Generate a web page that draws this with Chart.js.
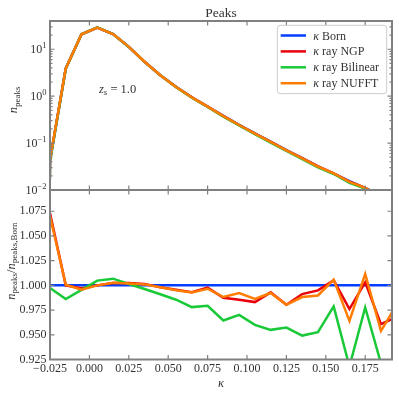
<!DOCTYPE html>
<html><head><meta charset="utf-8">
<script src="https://cdn.jsdelivr.net/npm/chart.js@4.4.1/dist/chart.umd.min.js"></script>
<style>
html,body{margin:0;padding:0;background:#fff;width:399px;height:394px;overflow:hidden;}
#c1{position:absolute;left:0;top:0;}
#c2{position:absolute;left:0;top:189px;}
</style></head><body>
<canvas id="c1" width="399" height="200"></canvas>
<canvas id="c2" width="399" height="205"></canvas>
<script>
// ---- data ----
const kappa = [-0.035, -0.025, -0.015, -0.005, 0.005, 0.015, 0.025, 0.035, 0.045, 0.055, 0.065, 0.075,
               0.085, 0.095, 0.105, 0.115, 0.125, 0.135, 0.145, 0.155, 0.165, 0.175, 0.185, 0.195];
const nBorn = [0, 0.041, 3.9, 20.9, 29.0, 21.0, 11.2, 5.4, 2.8, 1.58, 0.95, 0.60,
               0.38, 0.245, 0.162, 0.107, 0.071, 0.048, 0.032, 0.0224, 0.0155, 0.011, 0.0076, 0.0052];
const ratioNGP = [null, 1.073, 1.000, 0.997, 1.000, 1.0025, 1.0025, 1.0015, 0.998, 0.9955, 0.993, 0.9977,
                  0.9875, 0.9855, 0.9831, 0.9929, 0.9804, 0.9912, 0.9949, 1.0051, 0.976, 1.003, 0.9608, 0.9681];
const ratioBilinear = [null, 0.9973, 0.9862, 0.9955, 1.0048, 1.0068, 1.0014, 0.9963, 0.991, 0.9855, 0.978, 0.9794,
                       0.9645, 0.9702, 0.960, 0.955, 0.9573, 0.9492, 0.9526, 0.9787, 0.918, 0.9776, 0.921, 0.915];
const ratioNUFFT = [null, 1.070, 1.0007, 0.9956, 1.000, 1.0027, 1.002, 1.001, 0.998, 0.995, 0.9929, 0.9966,
                    0.9882, 0.9923, 0.9862, 0.9923, 0.9804, 0.9882, 0.9898, 1.0058, 0.9641, 1.0116, 0.954, 0.9805];
const seriesNames = ['κ Born', 'κ ray NGP', 'κ ray Bilinear', 'κ ray NUFFT'];
const xTicks = [-0.025, 0.000, 0.025, 0.050, 0.075, 0.100, 0.125, 0.150, 0.175];
const ratioTicks = [0.925, 0.950, 0.975, 1.000, 1.025, 1.050, 1.075];
const logMajorTicks = [0.01, 0.1, 1, 10];
const logExponents = ['−2', '−1', '0', '1'];
const titleText = 'Peaks';
const annotationText = ['z', 's', ' = 1.0'];

// ---- styles ----
const seriesColors = ['#023eff', '#e8000b', '#1ac938', '#ff7c00'];
const SERIF = '"Liberation Serif", "DejaVu Serif", serif';
const FRAME = '#808080';
const TXT = '#333333';

// ratios per series (Born / Born = 1 where defined)
const ratioBorn = nBorn.map(v => v > 0 ? 1 : null);
const ratios = [ratioBorn, ratioNGP, ratioBilinear, ratioNUFFT];
// counts per series = Born counts times the plotted ratio; empty bins clipped like a log axis does
const counts = ratios.map(r => nBorn.map((v, j) => { const c = v * (r[j] == null ? 1 : r[j]); return c > 0 ? c : 1e-30; }));

const X_MIN = -0.025, X_MAX = 0.192;
const Y_LOG_MIN = 0.01, Y_LOG_MAX = 40;
const Y_R_MIN = 0.925, Y_R_MAX = 1.0965;

const logMinorTicks = [];
logMajorTicks.forEach(m => { for (let k = 2; k <= 9; k++) { const v = m * k; if (v <= Y_LOG_MAX + 1e-9) logMinorTicks.push(v); } });

function fnt(p) { return (p.italic ? 'italic ' : '') + p.size + 'px ' + SERIF; }
function richWidth(ctx, parts) { let w = 0; for (const p of parts) { ctx.font = fnt(p); w += ctx.measureText(p.t).width; } return w; }
function drawRich(ctx, parts, x, y, align) {
  const w = richWidth(ctx, parts);
  let cx = align === 'center' ? x - w / 2 : (align === 'right' ? x - w : x);
  ctx.textAlign = 'left'; ctx.textBaseline = 'alphabetic';
  for (const p of parts) { ctx.font = fnt(p); ctx.fillStyle = p.color || TXT; ctx.fillText(p.t, cx, y + (p.dy || 0)); cx += ctx.measureText(p.t).width; }
}

const decor = {
  id: 'decor',
  afterDatasetsDraw(chart, args, opts) {
    const { ctx, chartArea: a, scales } = chart;
    const xs = scales.x, ys = scales.y;
    ctx.save();
    ctx.strokeStyle = FRAME; ctx.lineWidth = 1.2;
    ctx.beginPath();
    for (const v of opts.xMajor) {
      const px = xs.getPixelForValue(v);
      ctx.moveTo(px, a.bottom); ctx.lineTo(px, a.bottom - 4.5);
      ctx.moveTo(px, a.top); ctx.lineTo(px, a.top + 4.5);
    }
    for (const v of opts.yMajor) {
      const py = ys.getPixelForValue(v);
      ctx.moveTo(a.left, py); ctx.lineTo(a.left + 4.5, py);
      ctx.moveTo(a.right, py); ctx.lineTo(a.right - 4.5, py);
    }
    for (const v of (opts.yMinor || [])) {
      const py = ys.getPixelForValue(v);
      ctx.moveTo(a.left, py); ctx.lineTo(a.left + 2.5, py);
      ctx.moveTo(a.right, py); ctx.lineTo(a.right - 2.5, py);
    }
    ctx.stroke();
    ctx.lineWidth = 2;
    ctx.strokeRect(a.left, a.top, a.right - a.left, a.bottom - a.top);
    ctx.restore();
  },
  afterDraw(chart, args, opts) {
    const { ctx, chartArea: a, scales } = chart;
    const h = a.bottom - a.top;
    ctx.save();
    if (opts.top) {
      // title
      ctx.fillStyle = TXT; ctx.font = '13.5px ' + SERIF; ctx.textAlign = 'center'; ctx.textBaseline = 'alphabetic';
      ctx.fillText(titleText, (a.left + a.right) / 2, a.top - 4.5);
      // log tick labels
      logMajorTicks.forEach((v, i) => {
        const py = scales.y.getPixelForValue(v);
        drawRich(ctx, [{ t: '10', size: 12 }, { t: logExponents[i], size: 8.5, dy: -5 }], a.left - 3.5, py + 4, 'right');
      });
      // annotation z_s = 1.0
      drawRich(ctx, [{ t: annotationText[0], size: 12.5, italic: true }, { t: annotationText[1], size: 9, italic: true, dy: 2.5 }, { t: annotationText[2], size: 12.5 }],
        a.left + 0.143 * (a.right - a.left), a.top + 0.40 * h + 4, 'left');
      // y title
      ctx.translate(17, a.top + 0.467 * h);
      ctx.rotate(-Math.PI / 2);
      drawRich(ctx, [{ t: 'n', size: 12.5, italic: true }, { t: 'peaks', size: 9, dy: 2.5 }], 0, 0, 'center');
      ctx.setTransform(1, 0, 0, 1, 0, 0);
      // legend
      const ds = chart.data.datasets;
      const bx = a.right - 114.7, by = a.top + 4.3, bw = 109.4, bh = 68.3;
      ctx.beginPath();
      if (ctx.roundRect) ctx.roundRect(bx, by, bw, bh, 3); else ctx.rect(bx, by, bw, bh);
      ctx.fillStyle = 'rgba(255,255,255,0.85)'; ctx.fill();
      ctx.strokeStyle = '#cccccc'; ctx.lineWidth = 1; ctx.stroke();
      seriesNames.forEach((name, i) => {
        const ry = by + 10.2 + i * 15.9;
        ctx.strokeStyle = ds[i].borderColor; ctx.lineWidth = 2.5;
        ctx.beginPath(); ctx.moveTo(bx + 3.4, ry); ctx.lineTo(bx + 28.7, ry); ctx.stroke();
        const sp = name.indexOf(' ');
        drawRich(ctx, [{ t: name.slice(0, sp), size: 12, italic: true }, { t: name.slice(sp), size: 12 }], bx + 36, ry + 4, 'left');
      });
    } else {
      // x title
      drawRich(ctx, [{ t: 'κ', size: 12.5, italic: true }], (a.left + a.right) / 2, a.bottom + 27, 'center');
      // y title
      ctx.translate(14.5, a.top + 0.42 * h);
      ctx.rotate(-Math.PI / 2);
      drawRich(ctx, [{ t: 'n', size: 12.5, italic: true }, { t: 'peaks', size: 9, dy: 2.5 },
                     { t: '/', size: 12.5 }, { t: 'n', size: 12.5, italic: true }, { t: 'peaks,Born', size: 9, dy: 2.5 }], 0, 0, 'center');
      ctx.setTransform(1, 0, 0, 1, 0, 0);
    }
    ctx.restore();
  }
};

function makeDatasets(values) {
  return seriesNames.map((name, i) => ({
    label: name,
    data: kappa.map((k, j) => ({ x: k, y: values[i][j] })),
    borderColor: seriesColors[i],
    backgroundColor: seriesColors[i],
    borderWidth: 2.5,
    pointRadius: 0,
    tension: 0,
    fill: false,
    spanGaps: false,
    order: seriesNames.length - 1 - i
  }));
}

function noPad(s) { s.paddingTop = 0; s.paddingBottom = 0; s.paddingLeft = 0; s.paddingRight = 0; }

const common = {
  responsive: false, animation: false, devicePixelRatio: 1, events: []
};

new Chart(document.getElementById('c1'), {
  type: 'line',
  data: { datasets: makeDatasets(counts) },
  options: Object.assign({}, common, {
    layout: { padding: { left: 0, right: 7, top: 21, bottom: 10 } },
    plugins: {
      legend: { display: false }, tooltip: { enabled: false }, title: { display: false },
      decor: { top: true, xMajor: xTicks, yMajor: logMajorTicks, yMinor: logMinorTicks }
    },
    scales: {
      x: { type: 'linear', min: X_MIN, max: X_MAX, display: false },
      y: { type: 'logarithmic', min: Y_LOG_MIN, max: Y_LOG_MAX,
           ticks: { display: false }, grid: { display: false, drawTicks: false }, border: { display: false },
           afterFit(s) { s.width = 50; noPad(s); } }
    }
  }),
  plugins: [decor]
});

new Chart(document.getElementById('c2'), {
  type: 'line',
  data: { datasets: makeDatasets(ratios) },
  options: Object.assign({}, common, {
    layout: { padding: { left: 0, right: 7, top: 1, bottom: 0 } },
    plugins: {
      legend: { display: false }, tooltip: { enabled: false }, title: { display: false },
      decor: { top: false, xMajor: xTicks, yMajor: ratioTicks }
    },
    scales: {
      x: { type: 'linear', min: X_MIN, max: X_MAX,
           afterBuildTicks(s) { s.ticks = xTicks.map(v => ({ value: v })); },
           ticks: { autoSkip: false, maxRotation: 0, padding: 2, color: TXT, font: { family: SERIF, size: 12 },
                    callback: v => Number(v).toFixed(3).replace('-', '−') },
           grid: { display: false, drawTicks: false }, border: { display: false },
           afterFit(s) { s.height = 34.5; noPad(s); } },
      y: { type: 'linear', min: Y_R_MIN, max: Y_R_MAX,
           afterBuildTicks(s) { s.ticks = ratioTicks.map(v => ({ value: v })); },
           ticks: { padding: 3.5, color: TXT, font: { family: SERIF, size: 12 },
                    callback: v => Number(v).toFixed(3) },
           grid: { display: false, drawTicks: false }, border: { display: false },
           afterFit(s) { s.width = 50; noPad(s); } }
    }
  }),
  plugins: [decor]
});
</script>
</body></html>
